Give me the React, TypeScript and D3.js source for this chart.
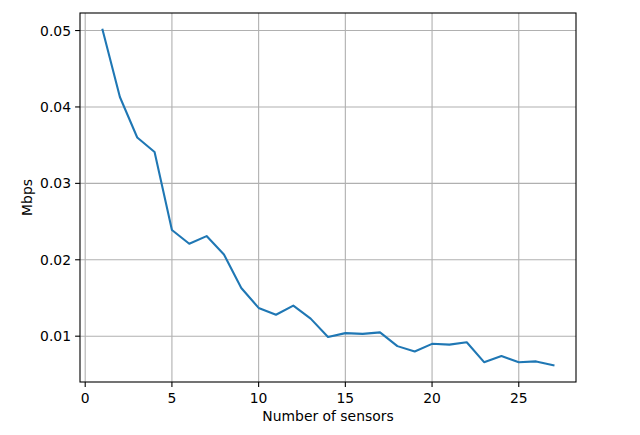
import React from "react";
import * as d3 from "d3";

const sensors = [1,2,3,4,5,6,7,8,9,10,11,12,13,14,15,16,17,18,19,20,21,22,23,24,25,26,27];
const mbps = [0.0501,0.0413,0.0360,0.0341,0.0239,0.0221,0.0231,0.0207,0.0163,0.0137,0.0128,0.0140,0.0123,0.0099,0.0104,0.0103,0.0105,0.0087,0.0080,0.0090,0.0089,0.0092,0.0066,0.0074,0.0066,0.0067,0.0062];
const xTicks = [0,5,10,15,20,25];
const yTicks = [0.01,0.02,0.03,0.04,0.05];
const xLabel = "Number of sensors";
const yLabel = "Mbps";

export default function App() {
  const W = 640, H = 435;
  const L = 80, R = 576, T = 13, B = 382;
  const xmin = d3.min(sensors)!, xmax = d3.max(sensors)!;
  const ymin = d3.min(mbps)!, ymax = d3.max(mbps)!;
  const xm = (xmax - xmin) * 0.05, ym = (ymax - ymin) * 0.05;
  const x = d3.scaleLinear().domain([xmin - xm, xmax + xm]).range([L, R]);
  const y = d3.scaleLinear().domain([ymin - ym, ymax + ym]).range([B, T]);
  const line = d3.line<number>().x((_, i) => x(sensors[i])).y((d) => y(d));
  const font = "DejaVu Sans, sans-serif";
  return (
    <svg width={W} height={H} style={{ position: "absolute", left: 0, top: 0, background: "#fff" }} fontFamily={font}>
      <rect x={0} y={0} width={W} height={H} fill="#fff" />
      {xTicks.map((t) => (
        <line key={"gx" + t} x1={x(t)} x2={x(t)} y1={T} y2={B} stroke="#b0b0b0" strokeWidth={1.1} />
      ))}
      {yTicks.map((t) => (
        <line key={"gy" + t} x1={L} x2={R} y1={y(t)} y2={y(t)} stroke="#b0b0b0" strokeWidth={1.1} />
      ))}
      <path d={line(mbps) || ""} fill="none" stroke="#1f77b4" strokeWidth={2.08} strokeLinejoin="round" strokeLinecap="square" />
      <rect x={L} y={T} width={R - L} height={B - T} fill="none" stroke="#000" strokeWidth={1.1} />
      {xTicks.map((t) => (
        <g key={"tx" + t}>
          <line x1={x(t)} x2={x(t)} y1={B} y2={B + 4.9} stroke="#000" strokeWidth={1.1} />
          <text x={x(t)} y={B + 21} textAnchor="middle" fontSize={13.9} fill="#000">{t}</text>
        </g>
      ))}
      {yTicks.map((t) => (
        <g key={"ty" + t}>
          <line x1={L - 4.9} x2={L} y1={y(t)} y2={y(t)} stroke="#000" strokeWidth={1.1} />
          <text x={L - 9} y={y(t)} dy="0.36em" textAnchor="end" fontSize={13.9} fill="#000">{t.toFixed(2)}</text>
        </g>
      ))}
      <text x={(L + R) / 2} y={421} textAnchor="middle" fontSize={13.9} fill="#000">{xLabel}</text>
      <text transform={`translate(32,${(T + B) / 2}) rotate(-90)`} textAnchor="middle" fontSize={13.9} fill="#000">{yLabel}</text>
    </svg>
  );
}
